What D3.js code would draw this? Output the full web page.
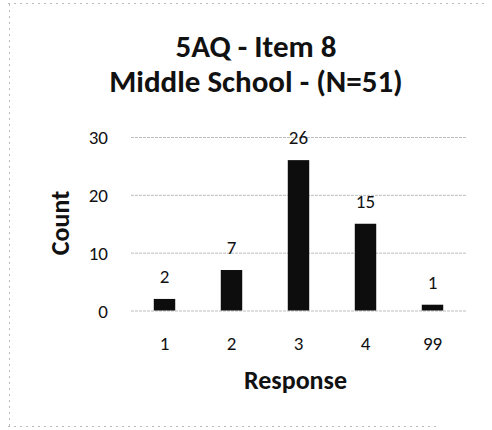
<!DOCTYPE html>
<html><head><meta charset="utf-8">
<script src="https://cdn.jsdelivr.net/npm/d3@7"></script>
<style>
html,body{margin:0;padding:0;background:#fff;}
svg{display:block;}
text{font-family:Carlito,Calibri,Lato,"Open Sans",sans-serif;fill:#111;}
</style></head>
<body>
<svg id="chart" width="492" height="430"></svg>
<script>
const categories = ["1","2","3","4","99"];
const counts = [2,7,26,15,1];
const yTicks = [0,10,20,30];
const titleLines = ["5AQ - Item 8","Middle School - (N=51)"];
const xTitle = "Response";
const yTitle = "Count";

const svg = d3.select("#chart");
const plot = {left:131, right:466, top:137, bottom:310.5};

// faint scan border
const border = svg.append("g").attr("stroke","#bbb").attr("stroke-width",1).attr("stroke-dasharray","2,4").attr("fill","none");
border.append("line").attr("x1",8).attr("x2",484).attr("y1",3.5).attr("y2",3.5);
border.append("line").attr("x1",9.5).attr("x2",9.5).attr("y1",4).attr("y2",426);
border.append("line").attr("x1",8).attr("x2",440).attr("y1",426.5).attr("y2",426.5);

const x = d3.scaleBand().domain(categories).range([plot.left, plot.right]).paddingInner(0.68).paddingOuter(0.34);
const y = d3.scaleLinear().domain([0,30]).range([plot.bottom, plot.top]);

// gridlines + y tick labels
const yAxis = d3.axisLeft(y).tickValues(yTicks).tickSize(-(plot.right-plot.left)).tickPadding(23);
const gy = svg.append("g").attr("transform",`translate(${plot.left},0)`).call(yAxis);
gy.select(".domain").remove();
gy.selectAll(".tick line").attr("stroke","#bdbdbd").attr("stroke-width",1).attr("stroke-dasharray","3,1");
gy.selectAll(".tick text").attr("font-size",19).attr("fill","#111").attr("dy","0.36em");

// bars
svg.append("g").selectAll("rect").data(counts).join("rect")
  .attr("x",(d,i)=>x(categories[i]))
  .attr("width",x.bandwidth())
  .attr("y",d=>y(d))
  .attr("height",d=>y(0)-y(d))
  .attr("fill","#0d0d0d");

// data labels
svg.append("g").selectAll("text").data(counts).join("text")
  .attr("x",(d,i)=>x(categories[i])+x.bandwidth()/2)
  .attr("y",d=>y(d)-16)
  .attr("text-anchor","middle")
  .attr("font-size",19)
  .text(d=>d);

// x axis
const xAxis = d3.axisBottom(x).tickSize(0).tickPadding(0);
const gx = svg.append("g").attr("transform",`translate(0,${plot.bottom})`).call(xAxis);
gx.select(".domain").remove();
gx.selectAll(".tick text").attr("font-size",19).attr("fill","#111").attr("dy",null).attr("y",39.5);

// titles
svg.append("g").selectAll("text").data(titleLines).join("text")
  .attr("x",256).attr("y",(d,i)=>57+i*35)
  .attr("text-anchor","middle").attr("font-size",31).attr("font-weight","bold")
  .text(d=>d);

svg.append("text").attr("x",295.5).attr("y",389)
  .attr("text-anchor","middle").attr("font-size",26).attr("font-weight","bold").text(xTitle);

svg.append("text").attr("transform","translate(69,223) rotate(-90)")
  .attr("text-anchor","middle").attr("font-size",26).attr("font-weight","bold").text(yTitle);
</script>
</body></html>
